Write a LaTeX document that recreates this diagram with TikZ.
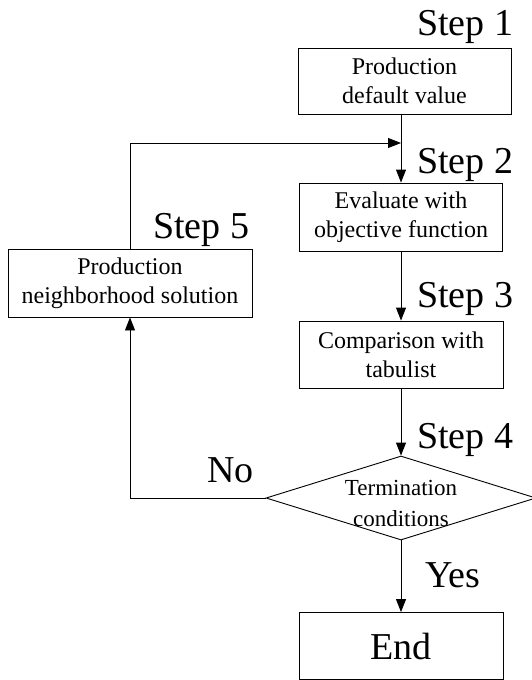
\documentclass[tikz,border=0pt]{standalone}
\usepackage{fontspec}
\setmainfont{Liberation Serif}
\usetikzlibrary{shapes.geometric,arrows.meta}
\begin{document}
\begin{tikzpicture}[x=1pt,y=-1pt,
 box/.style={draw,line width=0.9pt,inner sep=0pt,align=center,font=\fontsize{24}{29}\selectfont},
 flow/.style={line width=0.9pt,-{Triangle[length=13pt,width=10pt]}},
 steplabel/.style={anchor=base west,inner sep=0pt,font=\fontsize{38}{40}\selectfont}]
\useasboundingbox (0,0) rectangle (532,680);
\node[box,minimum width=213pt,minimum height=66pt] (b1) at (404.5,81) {Production\\default value};
\node[box,minimum width=203pt,minimum height=68pt] (b2) at (401,217) {Evaluate with\\objective function};
\node[box,minimum width=204pt,minimum height=67pt] (b3) at (401,354.5) {Comparison with\\tabulist};
\node[draw,diamond,line width=0.9pt,minimum width=270pt,minimum height=84pt,inner sep=0pt] (d) at (401,498) {};
\node[inner sep=0pt,align=center,font=\fontsize{23}{31}\selectfont] (dt) at (401,503) {Termination\\conditions};
\node[box,minimum width=204pt,minimum height=67pt,font=\fontsize{38}{40}\selectfont] (e) at (401,646) {End};
\node[box,minimum width=244pt,minimum height=68pt] (b5) at (130,283) {Production\\neighborhood solution};
\coordinate (j) at (401,143);
\node[steplabel] (s1) at (417,35) {Step 1};
\node[steplabel] (s2) at (417,173) {Step 2};
\node[steplabel] (s3) at (417,307) {Step 3};
\node[steplabel] (s4) at (417,448) {Step 4};
\node[steplabel] (s5) at (153,238) {Step 5};
\node[steplabel] (no) at (207,482) {No};
\node[steplabel] (yes) at (425,587) {Yes};
\draw[flow] (b1.south -| b2.north) -- (b2.north);
\draw[flow] (b5.north) |- (j);
\draw[flow] (b2.south) -- (b3.north);
\draw[flow] (b3.south) -- (d.north);
\draw[flow] (d.south) -- (e.north);
\draw[flow] (d.west) -| (b5.south);
\end{tikzpicture}
\end{document}
